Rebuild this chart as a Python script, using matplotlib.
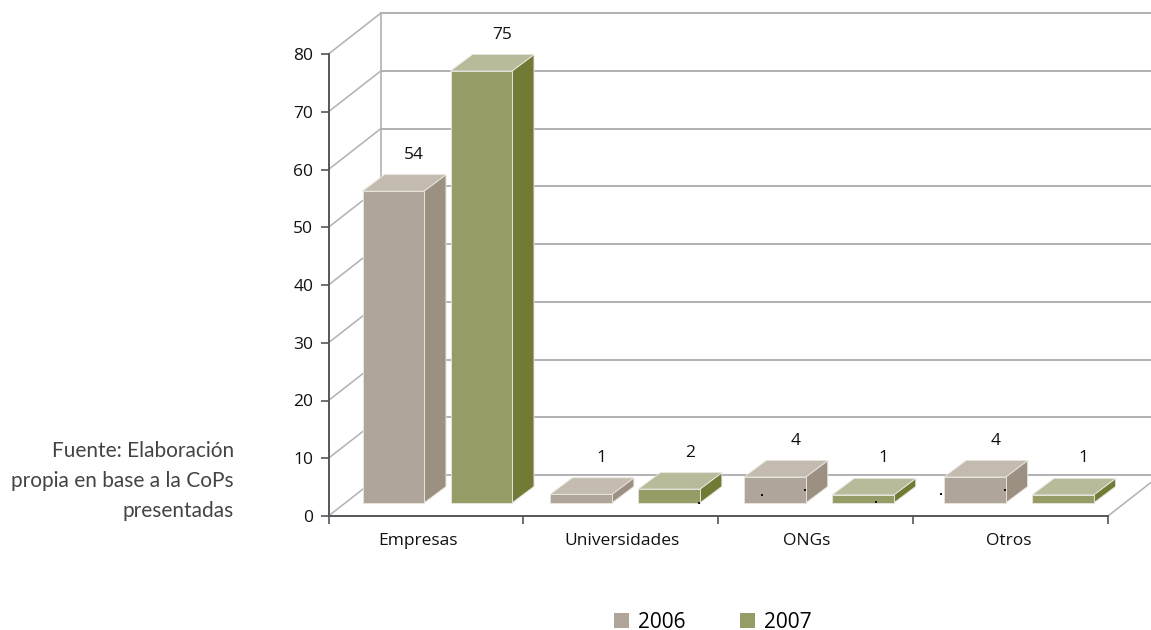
import matplotlib
matplotlib.use("Agg")
import matplotlib.pyplot as plt
from matplotlib.patches import Polygon, Patch

categories = ["Empresas", "Universidades", "ONGs", "Otros"]
years = ["2006", "2007"]
# drawn heights
heights_2006 = [54, 1.5, 4.5, 4.5]
heights_2007 = [74.8, 2.4, 1.4, 1.4]
# printed labels differ from the drawn heights on the small bars
labels_2006 = ["54", "1", "4", "4"]
labels_2007 = ["75", "2", "1", "1"]
y_ticks = [0, 10, 20, 30, 40, 50, 60, 70, 80]
source_note = "Fuente: Elaboración\npropia en base a la CoPs\npresentadas"
# stray dots in the original (category units, value units)
dots_x = [1.90, 2.223, 2.447, 2.81, 3.143, 3.472]
dots_y = [2.2, 3.6, 4.5, 2.4, 3.8, 4.5]

W, H = 1151, 630
AX_LEFT, AX_RIGHT, AX_TOP, AX_BOTTOM = 328.5, 1108, 54, 516
PX_X = (AX_RIGHT - AX_LEFT) / len(categories)
PX_Y = (AX_BOTTOM - AX_TOP) / y_ticks[-1]


def dx(px):
    return px / PX_X


def dy(px):
    return px / PX_Y


WALL_DX, WALL_DY = dx(52.5), dy(41)
BAR_DX, BAR_DY = dx(22), dy(16.5)
BAR_W = dx(61.5)
BAR_BASE = dy(13)
SERIES_STEP = dx(88)
GROUP_PAD = [dx(34), dx(27), dx(26), dx(31)]
LABEL_SHIFT = [dx(-8), dx(1.5), dx(-9.5), dx(-1.5)]

GRID = "#b1b1b3"
AXIS = "#55565a"
COLORS = {
    "2006": {"front": "#afa59a", "top": "#c3bab0", "side": "#9c9082"},
    "2007": {"front": "#979b66", "top": "#b7bb99", "side": "#737a36"},
}

fig = plt.figure(figsize=(W / 100, H / 100), dpi=100)
ax = fig.add_axes([AX_LEFT / W, 1 - AX_BOTTOM / H,
                   (AX_RIGHT - AX_LEFT) / W, (AX_BOTTOM - AX_TOP) / H])
ax.set_xlim(0, len(categories))
ax.set_ylim(0, y_ticks[-1])

# back wall and left wall
for t in y_ticks:
    ax.plot([0, WALL_DX], [t, t + WALL_DY], color=GRID, lw=1.1, clip_on=False, zorder=1)
    ax.plot([WALL_DX, len(categories) + 0.5], [t + WALL_DY, t + WALL_DY],
            color=GRID, lw=1.4, clip_on=False, zorder=1)
ax.plot([WALL_DX, WALL_DX], [WALL_DY, y_ticks[-1] + WALL_DY], color=GRID, lw=1.2,
        clip_on=False, zorder=1)
ax.plot([len(categories), len(categories) + WALL_DX], [0, WALL_DY], color=GRID, lw=1.1,
        clip_on=False, zorder=1)


def draw_bar(x, h, colors):
    x0, x1 = x, x + BAR_W
    y0, y1 = BAR_BASE, BAR_BASE + h
    edge = dict(edgecolor="#e6e3dc", linewidth=0.7, clip_on=False, zorder=3)
    ax.add_patch(Polygon([(x1, y0), (x1 + BAR_DX, y0 + BAR_DY), (x1 + BAR_DX, y1 + BAR_DY), (x1, y1)],
                         facecolor=colors["side"], **edge))
    ax.add_patch(Polygon([(x0, y1), (x0 + BAR_DX, y1 + BAR_DY), (x1 + BAR_DX, y1 + BAR_DY), (x1, y1)],
                         facecolor=colors["top"], **edge))
    ax.add_patch(Polygon([(x0, y0), (x1, y0), (x1, y1), (x0, y1)],
                         facecolor=colors["front"], **edge))


series = [(years[0], heights_2006, labels_2006), (years[1], heights_2007, labels_2007)]
for s, (year, heights, labels) in enumerate(series):
    for i, (h, lab) in enumerate(zip(heights, labels)):
        x = i + GROUP_PAD[i] + s * SERIES_STEP
        draw_bar(x, h, COLORS[year])
        ax.text(x + dx(51.5), BAR_BASE + h + dy(36.5), lab, ha="center", va="center",
                fontsize=12.5, color="#111111", family="Open Sans", zorder=4)

ax.scatter(dots_x, dots_y, s=4, marker="s", color="#111111", linewidths=0, clip_on=False, zorder=4)

# axes
for side in ["top", "right"]:
    ax.spines[side].set_visible(False)
for side in ["left", "bottom"]:
    ax.spines[side].set_color(AXIS)
    ax.spines[side].set_linewidth(1.4)
    ax.spines[side].set_zorder(2)
ax.set_yticks(y_ticks)
ax.set_xticks(range(len(categories) + 1))
ax.set_xticklabels([])
ax.tick_params(axis="both", which="major", color=AXIS, width=1.2, length=6, labelcolor="#111111")
ax.tick_params(axis="y", pad=5)
for lab in ax.get_yticklabels():
    lab.set_family("Open Sans")
    lab.set_fontsize(12.5)
ax.set_xticks([i + 0.5 + s for i, s in enumerate(LABEL_SHIFT)], minor=True)
ax.set_xticklabels(categories, minor=True, family="Open Sans", fontsize=12.5, color="#111111")
ax.tick_params(axis="x", which="minor", length=0, pad=12)

handles = [Patch(facecolor=COLORS[y]["front"], edgecolor="none") for y in years]
ax.legend(handles, years, loc="center left", bbox_to_anchor=(614 / W, 1 - 622 / H),
          bbox_transform=fig.transFigure, ncol=2, frameon=False, prop={"family": "Open Sans", "size": 15},
          handlelength=0.72, handleheight=0.72, handletextpad=0.45, columnspacing=2.6,
          borderpad=0, borderaxespad=0)

fig.text(234 / W, 1 - 481 / H, source_note, ha="right", va="center", family="Lato",
         fontsize=15, color="#444444", linespacing=1.63)

fig.savefig("out.png", dpi=100)
